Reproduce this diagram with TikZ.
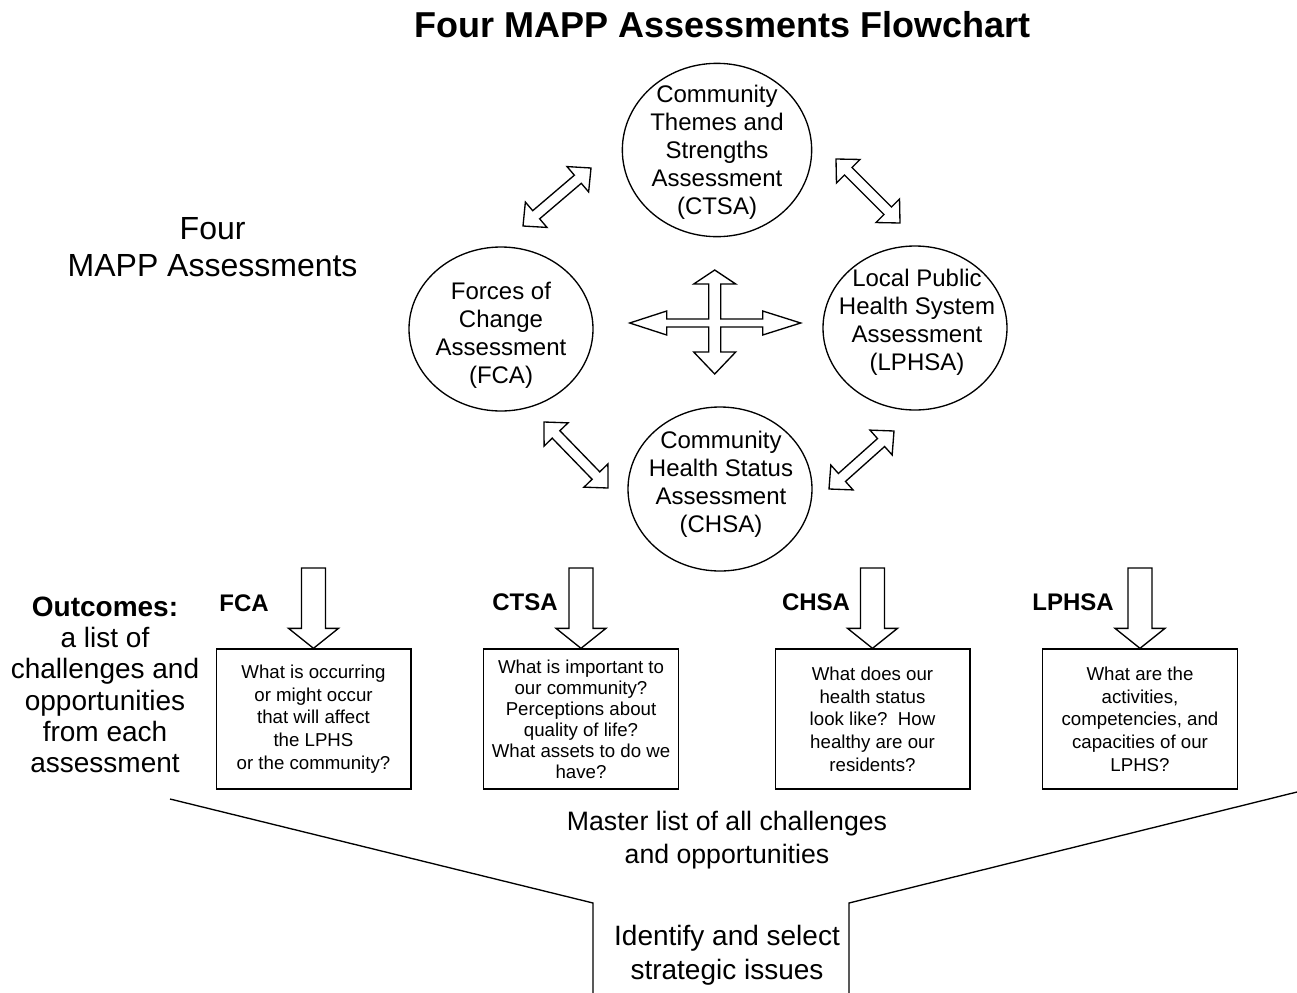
\documentclass[tikz,border=0pt]{standalone}
\usepackage{fontspec}
\setmainfont{Liberation Sans}
\usetikzlibrary{shapes.geometric,calc}

\tikzset{
  assess/.style={draw, ellipse, line width=1pt, minimum width=138pt, minimum height=123pt, inner sep=0pt},
  circtext/.style={align=center, font=\fontsize{18}{21}\selectfont},
  outbox/.style={draw, line width=1pt, minimum width=146pt, minimum height=105pt, align=center, font=\fontsize{14}{17}\selectfont},
  tag/.style={font=\fontsize{18}{21}\bfseries\selectfont},
}

% hollow arrow with a head at both ends: from, to, shaft half, head half, head length
\newcommand{\twowayarrow}[5]{%
  \draw[line width=1pt] (#1)
    -- ($(#1)!#5!(#2)!#4!90:(#2)$) -- ($(#1)!#5!(#2)!#3!90:(#2)$)
    -- ($(#2)!#5!(#1)!#3!-90:(#1)$) -- ($(#2)!#5!(#1)!#4!-90:(#1)$)
    -- (#2)
    -- ($(#2)!#5!(#1)!#4!90:(#1)$) -- ($(#2)!#5!(#1)!#3!90:(#1)$)
    -- ($(#1)!#5!(#2)!#3!-90:(#2)$) -- ($(#1)!#5!(#2)!#4!-90:(#2)$)
    -- cycle;}

% hollow block arrow with one head
\newcommand{\blockarrow}[5]{%
  \draw[line width=1pt] ($(#1)!#3!90:(#2)$)
    -- ($(#2)!#5!(#1)!#3!-90:(#1)$) -- ($(#2)!#5!(#1)!#4!-90:(#1)$)
    -- (#2)
    -- ($(#2)!#5!(#1)!#4!90:(#1)$) -- ($(#2)!#5!(#1)!#3!90:(#1)$)
    -- ($(#1)!#3!-90:(#2)$) -- cycle;}

\begin{document}
\begin{tikzpicture}[x=0.75pt, y=-0.75pt]
  \useasboundingbox (0,0) rectangle (1297,993);

  \node[font=\fontsize{27}{30}\bfseries\selectfont] (title) at (722.5,25) {Four MAPP Assessments Flowchart};

  % the four assessments
  \node[assess, minimum width=142pt, minimum height=130pt] (ctsa) at (717,150) {};
  \node[assess] (fca) at (501,329) {};
  \node[assess] (lphsa) at (915,328) {};
  \node[assess] (chsa) at (720,489) {};
  \node[circtext] (ctsatext) at (717,152) {Community\\Themes and\\Strengths\\Assessment\\(CTSA)};
  \node[circtext] (fcatext) at (501,335) {Forces of\\Change\\Assessment\\(FCA)};
  \node[circtext] (lphsatext) at (917,322) {Local Public\\Health System\\Assessment\\(LPHSA)};
  \node[circtext] (chsatext) at (721,484) {Community\\Health Status\\Assessment\\(CHSA)};

  \node[align=center, font=\fontsize{24}{27.75}\selectfont] (fourmapp) at (212.6,247.5) {Four\\MAPP Assessments};

  % links between the assessments
  \coordinate (fc1) at (523,226); \coordinate (ct1) at (591,168);
  \coordinate (ct2) at (836,159); \coordinate (lp2) at (900,223);
  \coordinate (fc3) at (544,422); \coordinate (ch3) at (608,488);
  \coordinate (ch4) at (829,489); \coordinate (lp4) at (894,431);
  \twowayarrow{fc1}{ct1}{4pt}{12.5pt}{13pt}
  \twowayarrow{ct2}{lp2}{4pt}{12.5pt}{13pt}
  \twowayarrow{fc3}{ch3}{4pt}{12.5pt}{13pt}
  \twowayarrow{ch4}{lp4}{4pt}{12.5pt}{13pt}

  \coordinate (hub) at (714.7,323);
  \draw[line width=1pt, shift={(hub)}] (0,-53) -- (21,-39) -- (6,-39) -- (6,-4) -- (48,-4) -- (48,-12) -- (86,0)
    -- (48,12) -- (48,4) -- (6,4) -- (6,29) -- (21,29) -- (0,51) -- (-21,29) -- (-6,29) -- (-6,4)
    -- (-48,4) -- (-48,12) -- (-85,0) -- (-48,-12) -- (-48,-4) -- (-6,-4) -- (-6,-39) -- (-21,-39) -- cycle;

  % outcomes
  \node[align=center, font=\fontsize{21}{23.5}\selectfont] (outcomes) at (105,685)
    {\textbf{Outcomes:}\\a list of\\challenges and\\opportunities\\from each\\assessment};

  \node[outbox] (fcabox) at (313.5,719) {What is occurring\\or might occur\\that will affect\\the LPHS\\or the community?};
  \node[outbox, font=\fontsize{14}{15.75}\selectfont] (ctsabox) at (581,719) {What is important to\\our community?\\Perceptions about\\quality of life?\\What assets to do we\\have?};
  \node[outbox] (chsabox) at (872.5,719) {What does our\\health status\\look like?~~How\\healthy are our\\residents?};
  \node[outbox] (lphsabox) at (1140,719) {What are the\\activities,\\competencies, and\\capacities of our\\LPHS?};

  \coordinate (fcain) at (313.5,568);
  \coordinate (ctsain) at (581,568);
  \coordinate (chsain) at (872.5,568);
  \coordinate (lphsain) at (1140,568);
  \blockarrow{fcain}{fcabox.north}{9pt}{18.75pt}{15pt}
  \blockarrow{ctsain}{ctsabox.north}{9pt}{18.75pt}{15pt}
  \blockarrow{chsain}{chsabox.north}{9pt}{18.75pt}{15pt}
  \blockarrow{lphsain}{lphsabox.north}{9pt}{18.75pt}{15pt}

  \node[tag] (fcatag) at (244,603) {FCA};
  \node[tag] (ctsatag) at (525,602) {CTSA};
  \node[tag] (chsatag) at (816,602) {CHSA};
  \node[tag] (lphsatag) at (1073,602) {LPHSA};

  % funnel
  \draw[line width=1pt] (170,799) -- (593,903) -- (593,993);
  \draw[line width=1pt] (1297,792) -- (849,903) -- (849,993);
  \node[align=center, font=\fontsize{20}{24.75}\selectfont] (master) at (727,840) {Master list of all challenges\\and opportunities};
  \node[align=center, font=\fontsize{21}{25.25}\selectfont] (issues) at (727,955) {Identify and select\\strategic issues};
\end{tikzpicture}
\end{document}
